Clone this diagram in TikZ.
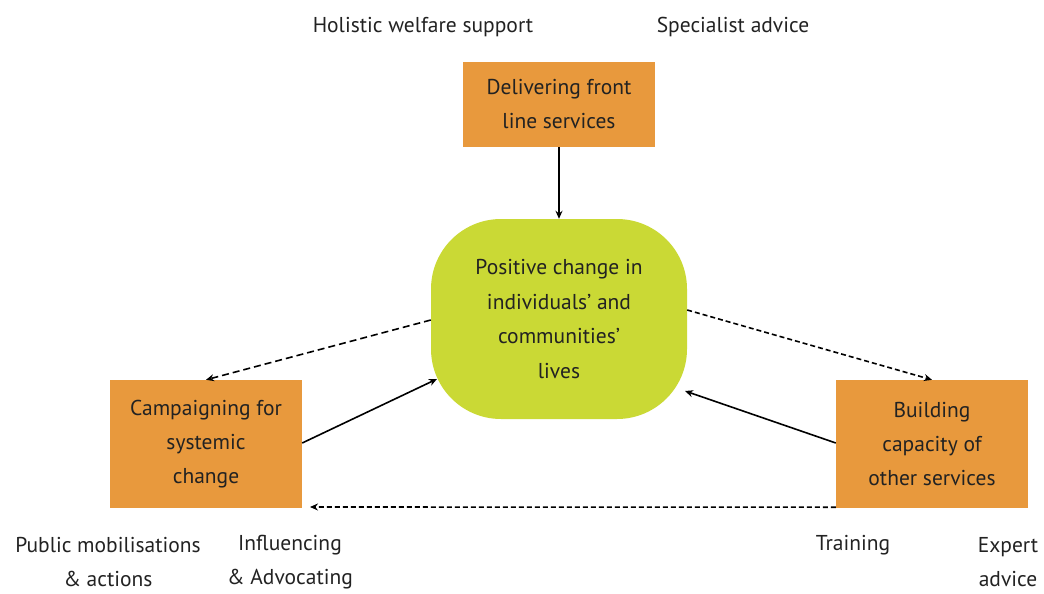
\documentclass[tikz,border=0pt]{standalone}
\usepackage{fontspec}
\setmainfont{PT Sans}
\usetikzlibrary{arrows.meta}
\definecolor{boxorange}{HTML}{E8993D}
\definecolor{lifegreen}{HTML}{CAD935}
\definecolor{inktext}{HTML}{222222}
\tikzset{
	service/.style={fill=boxorange, minimum width=192, minimum height=128, align=center, text=inktext, font=\fontsize{21.5}{34}\selectfont},
	outcome/.style={fill=lifegreen, rounded corners=70, minimum width=256, minimum height=200, align=center, text=inktext, font=\fontsize{21.5}{34.5}\selectfont},
	tag/.style={align=center, text=inktext, font=\fontsize{21.5}{34}\selectfont},
	flow/.style={-{Stealth[length=8pt,width=7pt]}, line width=1.6pt},
	feed/.style={flow, dash pattern=on 7pt off 4pt},
}

\begin{document}
\begin{tikzpicture}[x=1pt, y=-1pt]
	\useasboundingbox (0,0) rectangle (1044,594);
	
	\node[service, minimum height=85] (front) at (559,104.5) {Delivering front\\line services};
	\node[outcome] (change) at (559,319) {Positive change in\\individuals' and\\communities'\\lives};
	\node[service] (campaign) at (206,444) {Campaigning for\\systemic\\change};
	\node[service] (capacity) at (932,444) {Building\\capacity of\\other services};
	
	% labels round the boxes
	\node[tag] (holistic) at (423,27) {Holistic welfare support};
	\node[tag] (specialist) at (733,27) {Specialist advice};
	\node[tag] (public) at (108,562) {Public mobilisations\\\& actions};
	\node[tag] (influence) at (290,562) {Influencing\\\& Advocating};
	\node[tag] (training) at (853,545) {Training};
	\node[tag] (expert) at (1008,562) {Expert\\advice};
	
	\draw[flow] (front.south) -- (change.north);
	\draw[feed] (change.west |- 0,320) -- (campaign.north);
	\draw[feed, dash pattern=on 5pt off 3pt] (change.east |- 0,310) -- (capacity.north);
	\draw[flow] (campaign.east |- 0,443) -- (437,379);
	\draw[flow] (capacity.west |- 0,443) -- (685,391);
	\draw[feed, dash pattern=on 5pt off 3pt] (capacity.south west) ++(0,-1) -- (310,507);
\end{tikzpicture}
\end{document}
